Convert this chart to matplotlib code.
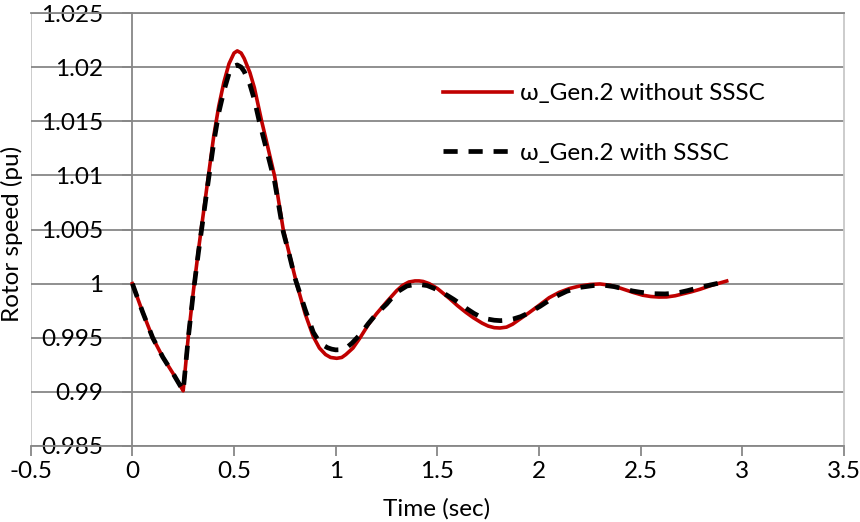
import matplotlib
matplotlib.use("Agg")
import matplotlib.pyplot as plt

plt.rcParams['font.family'] = ['Lato', 'DejaVu Sans']

# Rotor speed of generator 2 after the disturbance (pu)
t_without = [0.0, 0.05, 0.10, 0.15, 0.20, 0.25, 0.275, 0.30, 0.325, 0.35, 0.375,
             0.40, 0.425, 0.45, 0.475, 0.50, 0.516, 0.535, 0.55, 0.578, 0.60, 0.636,
             0.65, 0.70, 0.742, 0.77, 0.808, 0.85, 0.89, 0.92, 0.95, 0.975, 1.005,
             1.03, 1.05, 1.085, 1.12, 1.16, 1.20, 1.25, 1.30, 1.33, 1.36, 1.39,
             1.41, 1.43, 1.46, 1.50, 1.56, 1.60, 1.64, 1.677, 1.72, 1.75, 1.78,
             1.808, 1.84, 1.87, 1.90, 1.95, 2.005, 2.05, 2.10, 2.15, 2.20, 2.25,
             2.30, 2.35, 2.40, 2.464, 2.51, 2.55, 2.59, 2.628, 2.67, 2.70, 2.75,
             2.792, 2.85, 2.923]
w_without = [1.0000, 0.9974, 0.9950, 0.9932, 0.9917, 0.9901, 0.9951, 0.9993, 1.0031,
             1.0066, 1.0101, 1.0136, 1.0164, 1.0186, 1.0203, 1.0213, 1.0215,
             1.0213, 1.0208, 1.0195, 1.0181, 1.0150, 1.0139, 1.0099, 1.0050,
             1.0029, 1.0000, 0.9972, 0.9951, 0.99405, 0.99345, 0.99318, 0.9931,
             0.99318, 0.99345, 0.99405, 0.9950, 0.9962, 0.9972, 0.9983, 0.99935,
             0.99985, 1.00015, 1.00025, 1.00025, 1.0002, 1.0, 0.99955, 0.99862,
             0.99795, 0.99735, 0.99685, 0.99635, 0.99608, 0.99593, 0.9959,
             0.99598, 0.99625, 0.99665, 0.9973, 0.99806, 0.9987, 0.9992, 0.99955,
             0.99978, 0.99992, 0.99997, 0.99985, 0.99958, 0.99918, 0.99893,
             0.99881, 0.99876, 0.99877, 0.99888, 0.99902, 0.99925, 0.99948,
             0.99985, 1.00024]

t_with = [0.0, 0.05, 0.10, 0.15, 0.20, 0.25, 0.275, 0.30, 0.325, 0.35, 0.375,
          0.40, 0.425, 0.45, 0.475, 0.50, 0.516, 0.535, 0.55, 0.578, 0.60, 0.624,
          0.65, 0.70, 0.742, 0.77, 0.80, 0.85, 0.89, 0.915, 0.94, 0.96, 0.98,
          1.00, 1.03, 1.055, 1.08, 1.12, 1.16, 1.20, 1.25, 1.30, 1.35, 1.40,
          1.45, 1.479, 1.52, 1.55, 1.58, 1.611, 1.645, 1.68, 1.71, 1.743, 1.78,
          1.81, 1.84, 1.874, 1.91, 1.95, 2.005, 2.07, 2.136, 2.20, 2.267, 2.32,
          2.37, 2.415, 2.46, 2.50, 2.562, 2.62, 2.66, 2.694, 2.73, 2.77, 2.81,
          2.841, 2.88, 2.923]
w_with = [1.0000, 0.9974, 0.9950, 0.9932, 0.9917, 0.9901, 0.9950, 0.9992, 1.0029,
          1.0063, 1.0097, 1.0130, 1.0158, 1.0178, 1.0194, 1.0201, 1.0202,
          1.0200, 1.0196, 1.0184, 1.0170, 1.0150, 1.0131, 1.0094, 1.0048,
          1.0028, 1.0005, 0.9976, 0.9955, 0.99475, 0.9943, 0.99408, 0.99395,
          0.99388, 0.9939, 0.9941, 0.9945, 0.9953, 0.9963, 0.9972, 0.9981,
          0.9992, 0.99978, 0.99995, 0.99982, 0.9996, 0.99925, 0.9989, 0.99855,
          0.99815, 0.99768, 0.99725, 0.99695, 0.99674, 0.99662, 0.99658, 0.99662,
          0.99674, 0.99695, 0.9973, 0.9979, 0.9987, 0.99929, 0.99965, 0.99982,
          0.99985, 0.99972, 0.99952, 0.99932, 0.9992, 0.99907, 0.99905, 0.9991,
          0.9992, 0.99935, 0.99955, 0.99973, 0.99987, 1.00003, 1.00024]

label_without = "ω_Gen.2 without SSSC"
label_with = "ω_Gen.2 with SSSC"
x_ticks = [-0.5, 0, 0.5, 1, 1.5, 2, 2.5, 3, 3.5]
y_ticks = [0.985, 0.99, 0.995, 1.0, 1.005, 1.01, 1.015, 1.02, 1.025]
x_tick_labels = ["-0.5", "0", "0.5", "1", "1.5", "2", "2.5", "3", "3.5"]
y_tick_labels = ["0.985", "0.99", "0.995", "1", "1.005", "1.01", "1.015", "1.02", "1.025"]

GRID = "#878787"
BORDER = "#C8C8C8"
FS = 17.5

fig = plt.figure(figsize=(8.6, 5.22), dpi=100)
ax = fig.add_axes([30.7 / 860, 1 - 446 / 522, (844 - 30.7) / 860, (446 - 13) / 522])

ax.set_xlim(-0.5, 3.5)
ax.set_ylim(0.985, 1.025)
ax.set_xticks(x_ticks)
ax.set_xticklabels(x_tick_labels)
ax.set_yticks(y_ticks)
ax.set_yticklabels(y_tick_labels)

ax.yaxis.grid(True, color=GRID, linewidth=1.3)
ax.set_axisbelow(True)

# value axis crosses at t = 0
ax.spines['left'].set_position(('data', 0))
for side in ('left', 'bottom', 'top'):
    ax.spines[side].set_color(GRID)
    ax.spines[side].set_linewidth(1.3)
ax.spines['right'].set_color(BORDER)
ax.spines['right'].set_linewidth(1.3)
ax.axvline(-0.5, color=BORDER, linewidth=1.3, zorder=0.5)

ax.tick_params(axis='x', direction='out', length=7, width=1.3, color=GRID,
               labelsize=FS, pad=4)
ax.tick_params(axis='y', direction='out', length=7, width=1.3, color=GRID,
               labelsize=FS, pad=14)

ax.plot(t_without, w_without, color="#C00000", linewidth=2.6, label=label_without,
        solid_joinstyle='round', zorder=3)
ax.plot(t_with, w_with, color="black", linewidth=3.4, dashes=(3.0, 2.3),
        label=label_with, zorder=4)

fig.text(12 / 860, 1 - 234 / 522, "Rotor speed (pu)", rotation=90, ha='center',
         va='center', fontsize=FS)
fig.text(437 / 860, 1 - 509 / 522, "Time (sec)", ha='center', va='center', fontsize=FS)

leg = ax.legend(loc='upper left', bbox_to_anchor=(443 / 860, 1 - 83 / 522),
                bbox_transform=fig.transFigure, frameon=False, fontsize=FS,
                handlelength=2.85, handletextpad=0.33, labelspacing=1.6,
                borderpad=0, borderaxespad=0)

fig.savefig("out.png", dpi=100)
